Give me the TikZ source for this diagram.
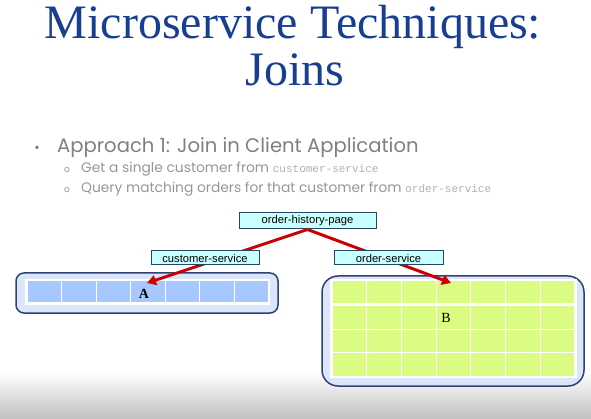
\documentclass[tikz,border=0pt]{standalone}
\usepackage{fontspec}
\setmainfont{Liberation Serif}
\newfontfamily\bulletfont{Poppins}
\newfontfamily\labelfont{Liberation Sans}
\newfontfamily\codefont{Liberation Mono}
\usetikzlibrary{arrows.meta}
\definecolor{titleblue}{RGB}{24,62,146}
\definecolor{bulletgray}{RGB}{128,128,128}
\definecolor{subgray}{RGB}{150,150,150}
\definecolor{codegray}{RGB}{175,175,175}
\definecolor{boxfill}{RGB}{200,255,255}
\definecolor{boxline}{RGB}{40,70,100}
\definecolor{contfill}{RGB}{220,230,250}
\definecolor{contline}{RGB}{46,66,115}
\definecolor{cellA}{RGB}{166,200,255}
\definecolor{cellB}{RGB}{218,252,130}
\definecolor{arrowred}{RGB}{204,0,0}
\definecolor{bggray}{RGB}{192,192,192}
\newcommand{\codetext}[1]{{\codefont\fontsize{11}{12}\selectfont\color{codegray}#1}}
\tikzset{
  titletext/.style={anchor=base, text=titleblue, font=\fontsize{48}{50}\selectfont},
  subtext/.style={anchor=base west, inner sep=0pt, text=subgray, font=\bulletfont\fontsize{13.8}{14}\selectfont},
  submark/.style={anchor=base, text=subgray, font=\bulletfont\fontsize{9}{9}\selectfont},
  labelbox/.style={draw=boxline, fill=boxfill, line width=1pt, inner sep=0pt,
    font=\labelfont\fontsize{11.2}{12}\selectfont, text=black},
  container/.style={draw=contline, fill=contfill, line width=1.5pt, inner sep=0pt},
  cellAstyle/.style={fill=cellA, draw=white, line width=1pt},
  cellBstyle/.style={fill=cellB, draw=white, line width=1pt},
  redarrow/.style={draw=arrowred, line width=3pt, -{Triangle[length=9pt,width=10pt]}},
}
\begin{document}
\begin{tikzpicture}[x=1pt,y=-1pt]
\useasboundingbox (0,0) rectangle (591,419);
\shade[top color=white, bottom color=bggray] (0,372) rectangle (591,419);
% title
\node[titletext] (t1) at (293,39) {Microservice Techniques:};
\node[titletext] (t2) at (295,86) {Joins};
% bullets
\node[anchor=base, text=bulletgray, font=\fontsize{14}{14}\selectfont] (b0) at (37,153) {\textbullet};
\node[anchor=base west, inner sep=0pt, text=bulletgray, font=\bulletfont\fontsize{19.6}{20}\selectfont] (b1) at (57,153) {Approach 1: Join in Client Application};
\node[submark] (s0) at (67,173) {o};
\node[subtext] (s1) at (81,173) {Get a single customer from \codetext{customer-service}};
\node[submark] (q0) at (67,193) {o};
\node[subtext] (q1) at (81,193) {Query matching orders for that customer from \codetext{order-service}};
% container A
\node[container, rounded corners=8pt, minimum width=262pt, minimum height=40pt] (boxA) at (147,293) {};
\fill[white] (25,279) rectangle (270,305);
\foreach \i in {0,...,6} {
  \path[cellAstyle] ({27+\i*34.57},281) rectangle ({27+(\i+1)*34.57},303);
}
\node[font=\bfseries\fontsize{14}{14}\selectfont] (la) at (144,294) {A};
% container B
\node[container, rounded corners=16pt, minimum width=262pt, minimum height=110pt] (boxB) at (453,331) {};
\fill[white] (330,279) rectangle (577,378);
\foreach \i in {0,...,6} {
  \path[cellBstyle] ({332+\i*34.71},281) rectangle ({332+(\i+1)*34.71},304);
  \path[cellBstyle] ({332+\i*34.71},306) rectangle ({332+(\i+1)*34.71},329);
  \path[cellBstyle] ({332+\i*34.71},329) rectangle ({332+(\i+1)*34.71},352);
  \path[cellBstyle] ({332+\i*34.71},352) rectangle ({332+(\i+1)*34.71},376);
}
\node[font=\fontsize{14}{14}\selectfont] (lb) at (446,318) {B};
% page node and arrows
\node[labelbox, minimum width=137pt, minimum height=16pt] (ohp) at (307.5,221) {order-history-page};
\coordinate (tipA) at (147,283);
\coordinate (tipB) at (451,283);
\draw[redarrow] (ohp.south) -- (tipA);
\draw[redarrow] (ohp.south) -- (tipB);
\node[labelbox, minimum width=108pt, minimum height=14pt] (cs) at (205,258) {customer-service};
\node[labelbox, minimum width=109pt, minimum height=14pt] (os) at (388.5,258) {order-service};
\end{tikzpicture}
\end{document}
